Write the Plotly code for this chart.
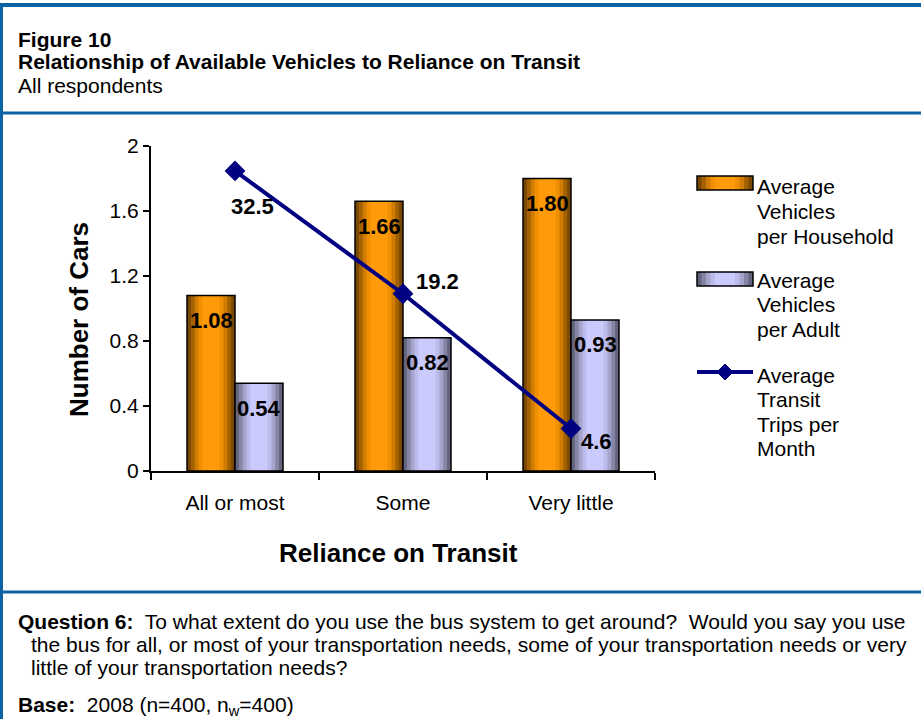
import plotly.graph_objects as go

categories = ["All or most", "Some", "Very little"]
veh_per_household = [1.08, 1.66, 1.80]
veh_per_adult = [0.54, 0.82, 0.93]
transit_trips = [32.5, 19.2, 4.6]
y_ticks = [0, 0.4, 0.8, 1.2, 1.6, 2]

W, H = 921, 719
FONT = "Arial, Liberation Sans, sans-serif"
BLUE = "#0b62a4"
NAVY = "#000080"


def px(x):
    return x / W


def py(y):
    return 1 - y / H


# cylinder-ish shading, outer layer first
orange_layers = [(1.0, "#7a4800"), (0.84, "#a46100"), (0.68, "#cf7c00"), (0.52, "#f08f00"), (0.36, "#ff9b08")]
purple_layers = [(1.0, "#64647e"), (0.84, "#8585a6"), (0.68, "#a4a4cc"), (0.52, "#bcbcec"), (0.36, "#cacafd")]
bar_w = 48 / 168

fig = go.Figure()

for shift, values, layers in [(-bar_w / 2, veh_per_household, orange_layers),
                              (bar_w / 2, veh_per_adult, purple_layers)]:
    for f, c in layers:
        fig.add_bar(x=categories, y=values, width=bar_w * f, offset=shift - bar_w * f / 2,
                    marker=dict(color=c, line_width=0), showlegend=False, hoverinfo="skip")
    fig.add_bar(x=categories, y=values, width=bar_w, offset=shift - bar_w / 2,
                marker=dict(color="rgba(0,0,0,0)", line=dict(color="black", width=1.5)),
                showlegend=False)

fig.add_scatter(x=categories, y=transit_trips, yaxis="y2", mode="lines+markers",
                line=dict(color=NAVY, width=4),
                marker=dict(symbol="diamond", size=16, color=NAVY),
                showlegend=False)

annotations = []
# bar value labels
for i in range(len(categories)):
    for shift, values in [(-bar_w / 2, veh_per_household), (bar_w / 2, veh_per_adult)]:
        annotations.append(dict(x=i + shift, y=values[i], xref="x", yref="y",
                                text="<b>%.2f</b>" % values[i], showarrow=False,
                                yanchor="middle", yshift=-25,
                                font=dict(size=22, color="black", family=FONT)))
# line labels
line_shifts = [(17, -36), (34, 12), (25, -13)]
for i, v in enumerate(transit_trips):
    annotations.append(dict(x=i, y=v, xref="x", yref="y2", text="<b>%.1f</b>" % v,
                            showarrow=False, xshift=line_shifts[i][0], yshift=line_shifts[i][1],
                            font=dict(size=22, color="black", family=FONT)))

# header
annotations += [
    dict(x=px(16), y=py(40), text="<b>Figure 10</b>", xanchor="left", yanchor="middle"),
    dict(x=px(16), y=py(61), text="<b>Relationship of Available Vehicles to Reliance on Transit</b>",
         xanchor="left", yanchor="middle"),
    dict(x=px(16), y=py(85), text="All respondents", xanchor="left", yanchor="middle"),
    # axis titles
    dict(x=px(79), y=py(320), text="<b>Number of Cars</b>", textangle=-90,
         xanchor="center", yanchor="middle", font=dict(size=26, family=FONT, color="black")),
    dict(x=px(398), y=py(553), text="<b>Reliance on Transit</b>",
         xanchor="center", yanchor="middle", font=dict(size=26, family=FONT, color="black")),
    # question text
    dict(x=px(16), y=py(621), text="<b>Question 6:</b>  To what extent do you use the bus system to get around?  Would you say you use",
         xanchor="left", yanchor="middle"),
    dict(x=px(29), y=py(644), text="the bus for all, or most of your transportation needs, some of your transportation needs or very",
         xanchor="left", yanchor="middle"),
    dict(x=px(29), y=py(667), text="little of your transportation needs?", xanchor="left", yanchor="middle"),
    dict(x=px(16), y=py(706), text="<b>Base:</b>  2008 (n=400, n<sub>w</sub>=400)", xanchor="left", yanchor="middle"),
]
# legend text, one annotation per line
legend_lines = [
    (["Average", "Vehicles", "per Household"], [186, 211, 236]),
    (["Average", "Vehicles", "per Adult"], [281, 305, 330]),
    (["Average", "Transit", "Trips per", "Month"], [375, 399, 424, 448]),
]
for texts, ys in legend_lines:
    for t, y in zip(texts, ys):
        annotations.append(dict(x=px(755), y=py(y), text=t, xanchor="left", yanchor="middle"))

for a in annotations:
    a.setdefault("xref", "paper")
    a.setdefault("yref", "paper")
    a.setdefault("showarrow", False)
    a.setdefault("font", dict(size=21, family=FONT, color="black"))

shapes = [
    dict(type="line", x0=0, x1=1, y0=py(5), y1=py(5), line=dict(color=BLUE, width=4)),
    dict(type="line", x0=px(1.5), x1=px(1.5), y0=py(3), y1=0, line=dict(color=BLUE, width=3)),
    dict(type="line", x0=0, x1=1, y0=py(113), y1=py(113), line=dict(color=BLUE, width=3)),
    dict(type="line", x0=0, x1=1, y0=py(592), y1=py(592), line=dict(color=BLUE, width=3)),
]
# legend swatches
for top, layers in [(176, orange_layers), (272, purple_layers)]:
    x0, x1 = 697, 753
    for f, c in layers:
        cx, hw = (x0 + x1) / 2, (x1 - x0) * f / 2
        shapes.append(dict(type="rect", x0=px(cx - hw), x1=px(cx + hw), y0=py(top), y1=py(top + 14),
                           fillcolor=c, line_width=0))
    shapes.append(dict(type="rect", x0=px(x0), x1=px(x1), y0=py(top), y1=py(top + 14),
                       fillcolor="rgba(0,0,0,0)", line=dict(color="black", width=1.5)))
shapes.append(dict(type="line", x0=px(697), x1=px(753), y0=py(372), y1=py(372),
                   line=dict(color=NAVY, width=4)))
shapes.append(dict(type="path",
                   path="M %f,%f L %f,%f L %f,%f L %f,%f Z" % (px(717), py(372), px(725), py(364),
                                                               px(733), py(372), px(725), py(380)),
                   fillcolor=NAVY, line=dict(color=NAVY, width=1)))
for s in shapes:
    s["xref"] = "paper"
    s["yref"] = "paper"

x_dom = [px(151), px(655)]
y_dom = [py(471), py(146)]

fig.update_layout(
    width=W, height=H,
    margin=dict(l=0, r=0, t=0, b=0),
    paper_bgcolor="white", plot_bgcolor="white",
    barmode="overlay",
    font=dict(family=FONT, size=21, color="black"),
    xaxis=dict(domain=x_dom, type="category", range=[-0.5, 2.5], showgrid=False, zeroline=False,
               showline=True, linecolor="black", linewidth=2, ticks="outside", ticklen=7,
               tickwidth=2, tickcolor="black", tickson="boundaries", automargin=False,
               ticklabelstandoff=12,
               tickfont=dict(size=21, family=FONT, color="black"), anchor="y"),
    xaxis3=dict(overlaying="x", anchor="y", range=[-0.5, 2.5], tickvals=[-0.5, 0.5, 1.5, 2.5],
                ticks="inside", ticklen=4, tickwidth=2, tickcolor="black", showticklabels=False,
                showline=False, showgrid=False, zeroline=False, automargin=False),
    yaxis=dict(domain=y_dom, range=[0, 2], tickvals=y_ticks, showgrid=False, zeroline=False,
               showline=True, linecolor="black", linewidth=2, ticks="outside", ticklen=6,
               tickwidth=2, tickcolor="black", automargin=False,
               tickfont=dict(size=21, family=FONT, color="black"), anchor="x"),
    yaxis3=dict(overlaying="y", anchor="x", range=[0, 2], tickvals=y_ticks, ticks="inside",
                ticklen=6, tickwidth=2, tickcolor="black", showticklabels=False,
                showline=False, showgrid=False, zeroline=False, automargin=False),
    yaxis2=dict(overlaying="y", range=[0, 35.2], visible=False, automargin=False),
    annotations=annotations,
    shapes=shapes,
)

# the page body has an 8px default margin; drop it so the figure fills the window
fig.write_html("out.html", config={"displayModeBar": False},
               post_script="document.body.style.margin='0';")
